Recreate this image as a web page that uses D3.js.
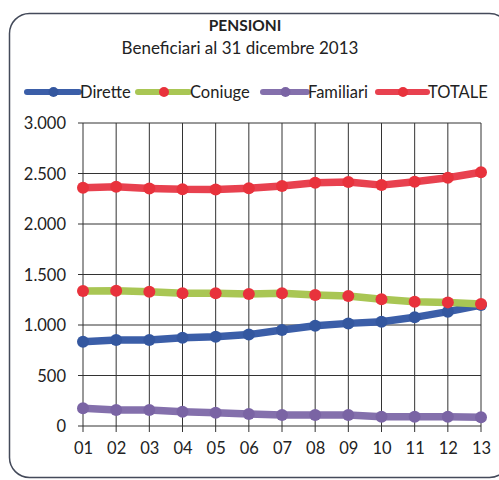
<!DOCTYPE html>
<html><head><meta charset="utf-8">
<script src="https://cdn.jsdelivr.net/npm/d3@7"></script>
<style>body{margin:0;background:#fff}svg{display:block}</style>
</head><body>
<svg id="c" width="499" height="480"></svg>
<script>
const categories = ["01","02","03","04","05","06","07","08","09","10","11","12","13"];
const dirette   = [835, 851, 851, 874, 884, 905, 950, 993, 1016, 1033, 1076, 1132, 1198];
const coniuge   = [1337, 1340, 1330, 1314, 1314, 1307, 1314, 1297, 1287, 1254, 1231, 1224, 1208];
const familiari = [175, 158, 158, 142, 132, 119, 109, 109, 109, 92, 92, 92, 86];
const totale    = [2360, 2368, 2352, 2343, 2342, 2355, 2376, 2409, 2416, 2385, 2418, 2458, 2512];
const yTicks = [0, 500, 1000, 1500, 2000, 2500, 3000];
const seriesNames = ["Dirette","Coniuge","Familiari","TOTALE"];

const series = [
  {name: seriesNames[0], values: dirette, line: "#3b5ea8", dot: "#34579f"},
  {name: seriesNames[1], values: coniuge, line: "#a9c654", dot: "#e8323c"},
  {name: seriesNames[2], values: familiari, line: "#8470ac", dot: "#7a64a4"},
  {name: seriesNames[3], values: totale, line: "#e8414f", dot: "#e8323c"}
];

const svg = d3.select("#c");
const font = "Lato, 'Open Sans', sans-serif";

// frame
svg.append("rect").attr("x", 9.5).attr("y", 13.5).attr("width", 500).attr("height", 464)
  .attr("rx", 20).attr("fill", "#fff").attr("stroke", "#444a5a").attr("stroke-width", 1.5);

svg.append("text").attr("x", 245).attr("y", 31).attr("text-anchor", "middle")
  .attr("font-family", font).attr("font-weight", "bold").attr("font-size", 15.5).attr("fill", "#222")
  .text("PENSIONI");
svg.append("text").attr("x", 240).attr("y", 54).attr("text-anchor", "middle")
  .attr("font-family", font).attr("font-size", 17).attr("fill", "#222")
  .text("Beneficiari al 31 dicembre 2013");

const x = d3.scalePoint().domain(categories).range([83, 481]);
const y = d3.scaleLinear().domain([0, 3000]).range([426, 123]);

// grid
const g = svg.append("g");
g.selectAll("line.h").data(yTicks).enter().append("line")
  .attr("x1", 78).attr("x2", 481).attr("y1", d => y(d)).attr("y2", d => y(d))
  .attr("stroke", "#333").attr("stroke-width", 1);
g.selectAll("line.v").data(categories).enter().append("line")
  .attr("x1", d => x(d)).attr("x2", d => x(d)).attr("y1", y(3000)).attr("y2", 432)
  .attr("stroke", "#333").attr("stroke-width", 1);

// axes labels
const yAxis = d3.axisLeft(y).tickValues(yTicks).tickSize(0).tickPadding(0)
  .tickFormat(d => d3.format(",")(d).replace(/,/g, "."));
const ya = svg.append("g").attr("transform", "translate(66,0)").call(yAxis);
ya.select(".domain").remove();
ya.selectAll("text").attr("font-family", font).attr("font-size", 16.5).attr("fill", "#222").attr("dy", "0.35em");

const xAxis = d3.axisBottom(x).tickSize(0).tickPadding(0);
const xa = svg.append("g").attr("transform", "translate(0,442)").call(xAxis);
xa.select(".domain").remove();
xa.selectAll("text").attr("font-family", font).attr("font-size", 16.5).attr("fill", "#222").attr("dy", "0.71em");

// lines
const line = d3.line().x((d, i) => x(categories[i])).y(d => y(d));
series.forEach(s => {
  svg.append("path").datum(s.values).attr("d", line).attr("fill", "none")
    .attr("stroke", s.line).attr("stroke-width", 7.5).attr("stroke-linejoin", "round").attr("stroke-linecap", "round");
  svg.selectAll(null).data(s.values).enter().append("circle")
    .attr("cx", (d, i) => x(categories[i])).attr("cy", d => y(d)).attr("r", 6).attr("fill", s.dot);
});

// legend
const legendPos = [[27, 80], [138, 190], [263, 308], [378, 428]];
series.forEach((s, i) => {
  const [lx, tx] = legendPos[i];
  svg.append("line").attr("x1", lx).attr("x2", tx - 1).attr("y1", 92).attr("y2", 92)
    .attr("stroke", s.line).attr("stroke-width", 6).attr("stroke-linecap", "round");
  svg.append("circle").attr("cx", (lx + tx) / 2).attr("cy", 92).attr("r", 5).attr("fill", s.dot);
  svg.append("text").attr("x", tx).attr("y", 92).attr("dy", "0.35em")
    .attr("font-family", font).attr("font-size", 16.5).attr("fill", "#222").text(s.name);
});
</script>
</body></html>
